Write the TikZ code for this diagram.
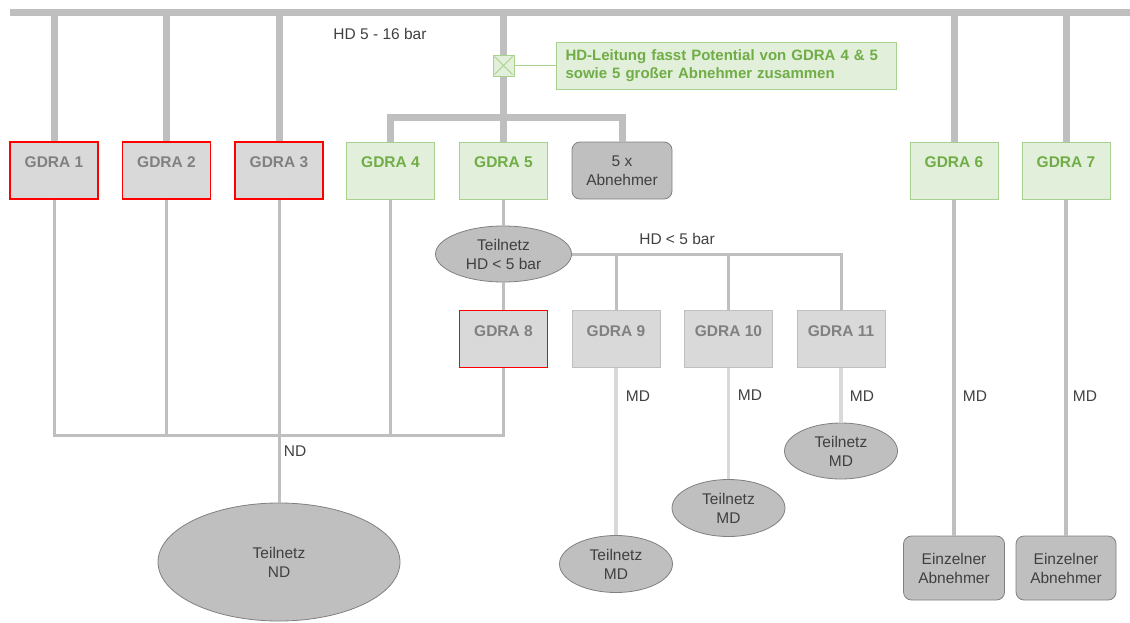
\documentclass[tikz,border=0pt]{standalone}
\usepackage{fontspec}
\setmainfont{Liberation Sans}
\usetikzlibrary{shapes.geometric}
\definecolor{pipe}{HTML}{BFBFBF}
\definecolor{pipelight}{HTML}{D9D9D9}
\definecolor{boxgray}{HTML}{D9D9D9}
\definecolor{txtgray}{HTML}{808080}
\definecolor{txtdark}{HTML}{404040}
\definecolor{darkfill}{HTML}{BFBFBF}
\definecolor{darkline}{HTML}{808080}
\definecolor{redline}{HTML}{FF0000}
\definecolor{grnfill}{HTML}{E2EFDA}
\definecolor{grnline}{HTML}{A9D18E}
\definecolor{grntxt}{HTML}{70AD47}
\tikzset{
  hdpipe/.style={draw=pipe, line width=7pt, line join=miter},
  ndpipe/.style={draw=pipe, line width=3pt, line join=miter},
  mdpipe/.style={draw=pipe, line width=3.5pt},
  mdlight/.style={draw=pipelight, line width=3.5pt},
  station/.style={rectangle, inner sep=0pt, minimum width=88pt,
    text height=25.5pt, text depth=31.5pt, font=\fontsize{15.5}{19}\selectfont\bfseries},
  redstation/.style={station, draw=redline, line width=1.4pt, fill=boxgray, text=txtgray},
  graystation/.style={station, draw=pipe, line width=1pt, fill=boxgray, text=txtgray},
  greenstation/.style={station, draw=grnline, line width=1pt, fill=grnfill, text=grntxt},
  consumer/.style={rectangle, rounded corners=8pt, draw=darkline, line width=0.8pt,
    fill=darkfill, text=txtdark, align=center, inner sep=0pt},
  subnet/.style={ellipse, draw=darkline, line width=0.8pt, fill=darkfill,
    text=txtdark, align=center, inner sep=0pt},
  lbl/.style={text=txtdark, inner sep=0pt},
}
\begin{document}
\begin{tikzpicture}[x=1pt, y=-1pt, font=\fontsize{15.5}{19}\selectfont]
\useasboundingbox (0,0) rectangle (1130,622);

% ---- stations on the high-pressure main
\node[redstation]   (g1) at (54,170.5)   {GDRA 1};
\node[redstation]   (g2) at (166.5,170.5) {GDRA 2};
\node[redstation]   (g3) at (279,170.5)  {GDRA 3};
\node[greenstation] (g4) at (390.5,170.5) {GDRA 4};
\node[greenstation] (g5) at (503.5,170.5) {GDRA 5};
\node[consumer, minimum width=100pt, minimum height=57pt] (ab5) at (622,170.5) {5 x\\Abnehmer};
\node[greenstation] (g6) at (954,170.5)  {GDRA 6};
\node[greenstation] (g7) at (1066,170.5) {GDRA 7};

% ---- HD < 5 bar partial network
\node[subnet, minimum width=136pt, minimum height=56pt] (thd) at (503.5,254) {Teilnetz\\HD < 5 bar};
\node[redstation]  (g8)  at (503.5,339) {GDRA 8};
\node[graystation] (g9)  at (616,339)   {GDRA 9};
\node[graystation] (g10) at (728.5,339) {GDRA 10};
\node[graystation] (g11) at (841,339)   {GDRA 11};

% ---- end points
\node[subnet, minimum width=242pt, minimum height=118pt] (tnd) at (279,562) {Teilnetz\\ND};
\node[subnet, minimum width=113pt, minimum height=57pt] (tmd1) at (616,564) {Teilnetz\\MD};
\node[subnet, minimum width=113pt, minimum height=57pt] (tmd2) at (728.5,508) {Teilnetz\\MD};
\node[subnet, minimum width=113pt, minimum height=56pt] (tmd3) at (841,451) {Teilnetz\\MD};
\node[consumer, minimum width=101pt, minimum height=64pt] (ez1) at (954,568) {Einzelner\\Abnehmer};
\node[consumer, minimum width=100pt, minimum height=64pt] (ez2) at (1066,568) {Einzelner\\Abnehmer};

% ---- marker on the HD line and its note
\node[rectangle, draw=grnline, line width=1pt, fill=grnfill, minimum size=21pt, inner sep=0pt] (mk) at (503.5,65.5) {};
\draw[grnline, line width=1pt] ([shift={(2pt,-2pt)}]mk.north west) -- ([shift={(-2pt,2pt)}]mk.south east)
  ([shift={(-2pt,-2pt)}]mk.north east) -- ([shift={(2pt,2pt)}]mk.south west);
\node[rectangle, draw=grnline, line width=1pt, fill=grnfill, anchor=west,
  minimum height=47pt, text width=322pt, align=left,
  inner xsep=9pt, text=grntxt, font=\fontsize{15}{18.5}\selectfont\bfseries] (note) at (556,65.5)
  {HD-Leitung fasst Potential von GDRA 4 \& 5\\sowie 5 großer Abnehmer zusammen};
\draw[grnline, line width=1.2pt] (mk.east) -- (note.west);

% ---- high-pressure main 5 - 16 bar
\coordinate (hdL) at (10,12);
\coordinate (hdR) at (1130,12);
\coordinate (hdsplit) at (503.5,117);
\draw[hdpipe] (hdL) -- (hdR);
\foreach \n in {g1,g2,g3,g6,g7} \draw[hdpipe] (\n.north |- hdL) -- (\n.north);
\draw[hdpipe] (mk.north |- hdL) -- (mk.north);
\draw[hdpipe] (mk.south) -- (g5.north);
\draw[hdpipe] (g4.north) -- (g4.north |- hdsplit) -- (ab5.north |- hdsplit) -- (ab5.north);

% ---- HD < 5 bar distribution
\draw[ndpipe] (g5.south) -- (thd.north);
\draw[ndpipe] (thd.south) -- (g8.north);
\draw[ndpipe] (thd.east) -- (g11.north |- thd.east) -- (g11.north);
\draw[ndpipe] (g9.north |- thd.east) -- (g9.north);
\draw[ndpipe] (g10.north |- thd.east) -- (g10.north);

% ---- ND collector
\coordinate (ndbus) at (279,435.5);
\draw[ndpipe] (g1.south) -- (g1.south |- ndbus) -- (g8.south |- ndbus) -- (g8.south);
\foreach \n in {g2,g3,g4} \draw[ndpipe] (\n.south) -- (\n.south |- ndbus);
\draw[ndpipe] (ndbus) -- (tnd.north);

% ---- MD branches
\draw[mdlight] (g9.south) -- (tmd1.north);
\draw[mdlight] (g10.south) -- (tmd2.north);
\draw[mdlight] (g11.south) -- (tmd3.north);
\draw[mdpipe] (g6.south) -- (ez1.north);
\draw[mdpipe] (g7.south) -- (ez2.north);

% ---- pressure level labels
\node[lbl] (lhd)  at (380,34)   {HD 5 - 16 bar};
\node[lbl] (lhd5) at (677,239)  {HD < 5 bar};
\node[lbl] (lnd)  at (295,451)  {ND};
\node[lbl] (lmd1) at (638,396)  {MD};
\node[lbl] (lmd2) at (750,395)  {MD};
\node[lbl] (lmd3) at (862,396)  {MD};
\node[lbl] (lmd4) at (975,396)  {MD};
\node[lbl] (lmd5) at (1085,396) {MD};
\end{tikzpicture}
\end{document}
